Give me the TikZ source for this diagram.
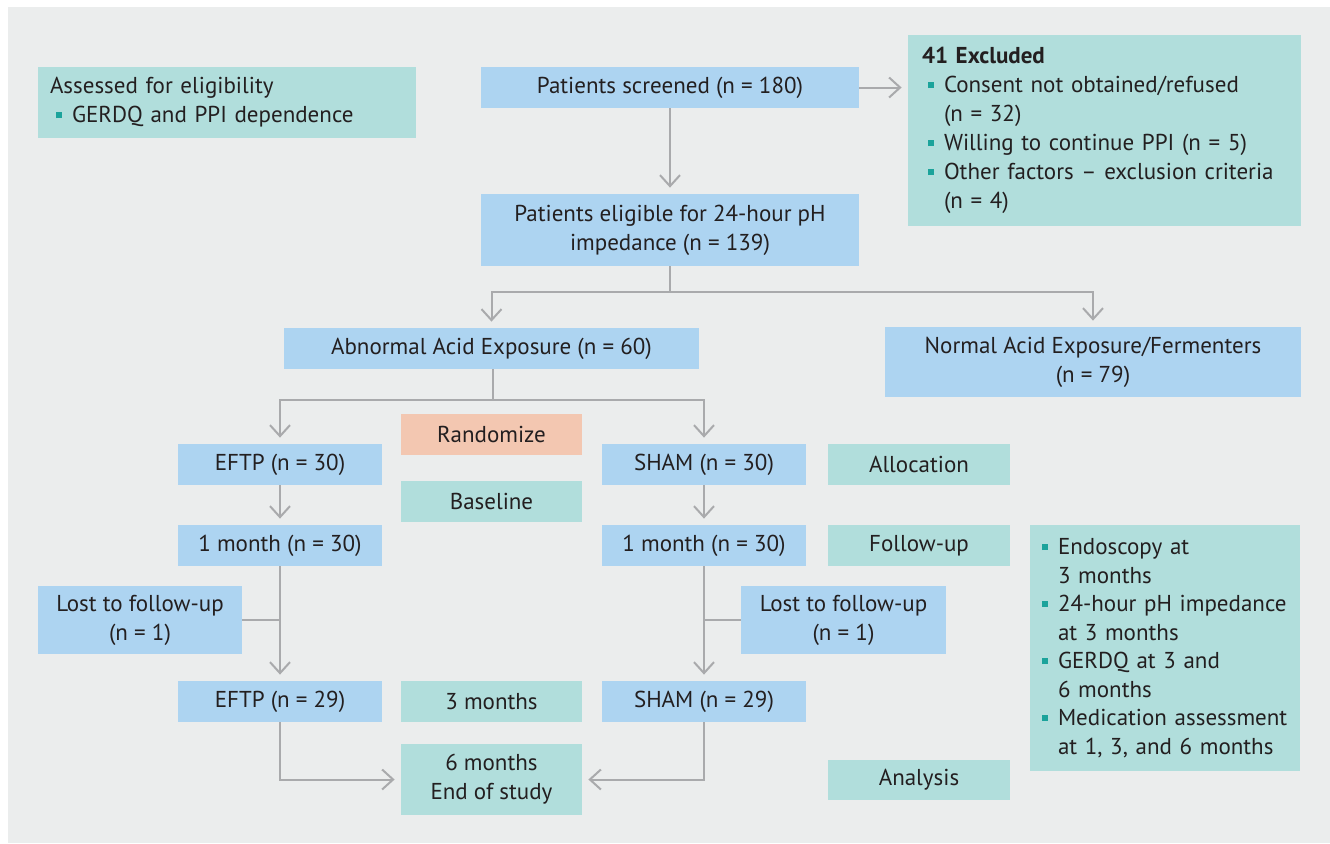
\documentclass[tikz,border=0pt]{standalone}
\usepackage{fontspec}
\setmainfont{PT Sans}
\usetikzlibrary{arrows.meta}
\definecolor{bgc}{HTML}{EBEDED}
\definecolor{tealc}{HTML}{B1DEDC}
\definecolor{bluec}{HTML}{ADD4F1}
\definecolor{salc}{HTML}{F3C7B1}
\definecolor{linec}{HTML}{A9AAAC}
\definecolor{bulc}{HTML}{1BA39B}
\definecolor{txtc}{HTML}{231F20}
\newcommand\bul{\textcolor{bulc}{\rule[0.2em]{3pt}{3pt}}}
\newcommand\bitem{\hspace*{3pt}\bul\hspace{5pt}}
\newcommand\bcont{\hspace*{11pt}}
\newcommand\mybox[7]{\node[#6, minimum width={(#4-#2)*0.5pt}, minimum height={(#5-#3)*0.5pt}] (#1) at ({(#2+#4)/2},{(#3+#5)/2}) {#7};}
\tikzset{
  base/.style={inner sep=0pt, text=txtc, font=\fontsize{11.5}{14.5}\selectfont, align=center},
  tbox/.style={base, fill=tealc},
  bbox/.style={base, fill=bluec},
  sbox/.style={base, fill=salc},
  arr/.style={draw=linec, line width=1pt, -{Straight Barb[length=5.5pt,width=10pt,line width=1pt]}, shorten >=3pt},
  ln/.style={draw=linec, line width=1pt},
}
\begin{document}
\begin{tikzpicture}[x=0.5pt,y=-0.5pt]
\useasboundingbox (0,0) rectangle (1330,843);
\fill[white] (0,0) rectangle (1330,843);
\fill[bgc] (8,7) rectangle (1330,843);
% top
\mybox{ass}{38}{67}{416}{138}{tbox, align=left, text width={(416-38-24)*0.5pt}}{Assessed for eligibility\\\bitem GERDQ and PPI dependence}
\mybox{scr}{481}{67}{859}{108}{bbox}{Patients screened (n = 180)}
\mybox{exc}{908}{35}{1301}{226}{tbox, align=left, text width={(1301-908-28)*0.5pt}}{\textbf{41 Excluded}\\\bitem Consent not obtained/refused\\\bcont(n = 32)\\\bitem Willing to continue PPI (n = 5)\\\bitem Other factors~-- exclusion criteria\\\bcont(n = 4)}
\mybox{elig}{481}{194}{859}{266}{bbox}{Patients eligible for 24-hour pH\\impedance (n = 139)}
\mybox{abn}{284}{328}{699}{369}{bbox}{Abnormal Acid Exposure (n = 60)}
\mybox{nor}{885}{327}{1301}{397}{bbox}{Normal Acid Exposure/Fermenters\\(n = 79)}
\mybox{rand}{401}{414}{582}{455}{sbox}{Randomize}
\mybox{eftpA}{178}{444}{382}{485}{bbox}{EFTP (n = 30)}
\mybox{shamA}{602}{444}{806}{485}{bbox}{SHAM (n = 30)}
\mybox{alloc}{828}{444}{1010}{485}{tbox}{Allocation}
\mybox{basel}{401}{481}{582}{522}{tbox}{Baseline}
\mybox{monL}{178}{525}{382}{566}{bbox}{1 month (n = 30)}
\mybox{monR}{602}{525}{806}{566}{bbox}{1 month (n = 30)}
\mybox{fup}{828}{525}{1010}{566}{tbox}{Follow-up}
\mybox{endo}{1030}{525}{1300}{771}{tbox, align=left, text width={(1300-1030-12)*0.5pt}, font=\fontsize{11.5}{14.25}\selectfont}{\bitem Endoscopy at\\\bcont 3 months\\\bitem 24-hour pH impedance\\\bcont at 3 months\\\bitem GERDQ at 3 and\\\bcont 6 months\\\bitem \mbox{Medication assessment}\\\bcont at 1, 3, and 6 months}
\mybox{lostL}{38}{586}{242}{654}{bbox}{Lost to follow-up\\(n = 1)}
\mybox{lostR}{741}{586}{946}{654}{bbox}{Lost to follow-up\\(n = 1)}
\mybox{eftpB}{178}{681}{382}{722}{bbox}{EFTP (n = 29)}
\mybox{three}{401}{681}{582}{722}{tbox}{3 months}
\mybox{shamB}{602}{681}{806}{722}{bbox}{SHAM (n = 29)}
\mybox{six}{401}{744}{582}{815}{tbox}{6 months\\End of study}
\mybox{anal}{828}{760}{1010}{800}{tbox}{Analysis}
% junctions
\coordinate (j1) at (669,292);
\coordinate (j2) at (493,400);
% connectors
\draw[arr] (scr.east) -- (scr.east -| exc.west);
\draw[arr] (scr.south) -- (elig.north);
\draw[ln] (elig.south) -- (elig.south |- j1);
\draw[arr] (elig.south |- j1) -| (abn.north);
\draw[arr] (elig.south |- j1) -| (nor.north);
\draw[ln] (abn.south -| j2) -- (j2);
\draw[arr] (j2) -| (eftpA.north);
\draw[arr] (j2) -| (shamA.north);
\draw[arr] (eftpA.south) -- (monL.north);
\draw[arr] (shamA.south) -- (monR.north);
\draw[arr] (monL.south) -- (eftpB.north);
\draw[arr] (monR.south) -- (shamB.north);
\draw[ln] (lostL.east) -- (lostL.east -| monL.south);
\draw[ln] (lostR.west) -- (lostR.west -| monR.south);
\draw[arr] (eftpB.south) |- (six.west);
\draw[arr] (shamB.south) |- (six.east);
\end{tikzpicture}
\end{document}
